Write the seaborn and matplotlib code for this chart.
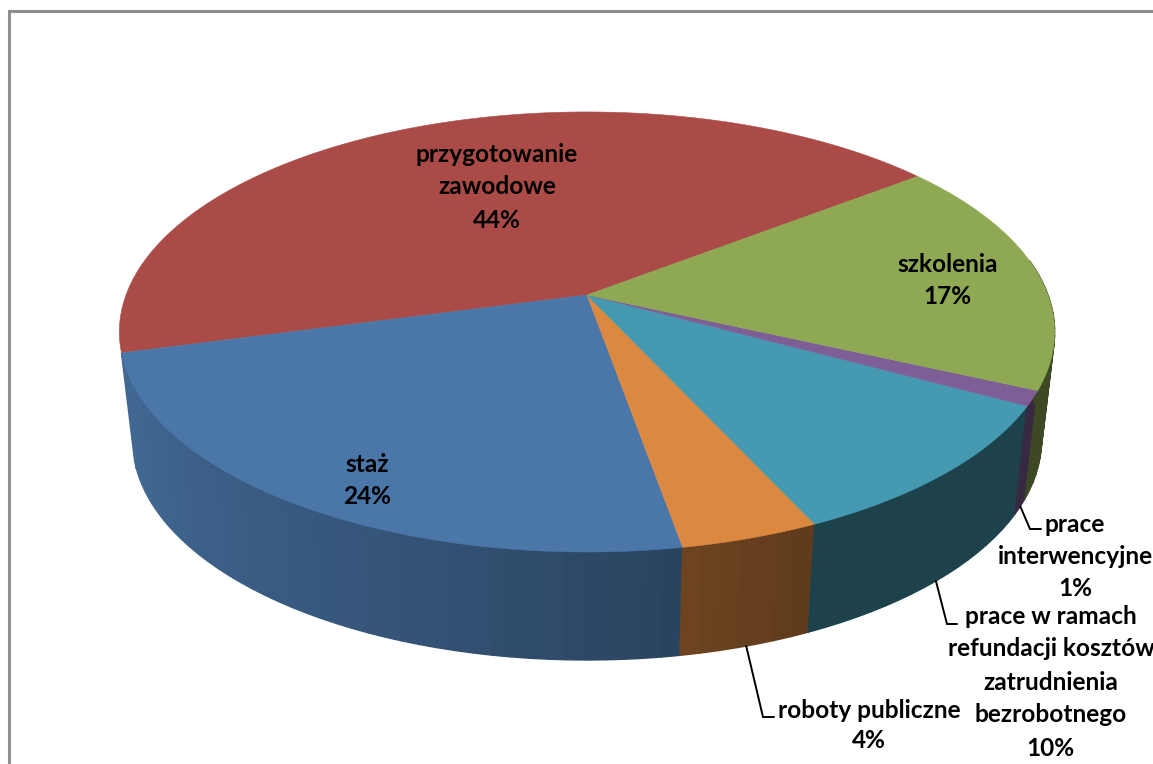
import matplotlib.pyplot as plt
import numpy as np
import seaborn as sns

# counter-clockwise from the red/green boundary
categories = ["przygotowanie\nzawodowe", "staż", "roboty publiczne",
              "prace w ramach\nrefundacji kosztów\nzatrudnienia\nbezrobotnego",
              "prace\ninterwencyjne", "szkolenia"]
values = [43.7, 23.6, 4.1, 10.2, 1.1, 17.3]
percent_labels = ["44%", "24%", "4%", "10%", "1%", "17%"]
slice_colors = ["#ab4b47", "#4a76a8", "#db8840", "#4599b0", "#7d5f96", "#8ea854"]

start_angle = 37.7
k = 0.168  # perspective of the tilted disc


def project(theta, a, y0):
    t = np.radians(theta)
    x, y = np.cos(t), np.sin(t)
    w = 1 + k * y
    return 587 + a * x / w, y0 - 213.8 * y / w


def top(theta):
    return project(theta, 461, 295)


def bottom(theta):
    return project(theta, 448, 403)


def shade(color, theta):
    f = np.interp(theta, [195, 240, 279.9, 280.1, 295, 385], [0.9, 0.75, 0.57, 0.5, 0.43, 0.43])
    return tuple(np.array(sns.color_palette([color])[0]) * f)


sns.set_theme(style="white")
plt.rcParams['font.family'] = ['Lato', 'DejaVu Sans']

fig, ax = plt.subplots(figsize=(11.53, 7.64), dpi=100)
fig.subplots_adjust(0, 0, 1, 1)
ax.set_xlim(0, 1153)
ax.set_ylim(764, 0)
ax.axis('off')

edges = start_angle + np.concatenate([[0], np.cumsum(values)]) * 3.6

# side wall, the red slice is at the back and never shows
for i, color in enumerate(slice_colors):
    if i == 0:
        continue
    lo, hi = edges[i], edges[i + 1]
    steps = np.linspace(lo, hi, max(int((hi - lo) / 2), 1) + 1)
    for t1, t2 in zip(steps[:-1], steps[1:]):
        if t1 > 368:  # behind the top face from here on
            continue
        xt, yt = top(np.array([t1, (t1 + t2) / 2, t2]))
        xb, yb = bottom(np.array([t2, (t1 + t2) / 2, t1]))
        c = shade(color, (t1 + t2) / 2)
        ax.fill(np.r_[xt, xb], np.r_[yt, yb], color=c, lw=1.0, zorder=2)

# top face
for i, color in enumerate(slice_colors):
    th = np.linspace(edges[i], edges[i + 1], 200)
    xs, ys = top(th)
    ax.fill(np.r_[587, xs], np.r_[295, ys], color=color, lw=0.4, zorder=3)

# leader lines start on the lower rim at the middle of the slice
mids = (edges[:-1] + edges[1:]) / 2
leaders = {2: [(763, 717), (774, 717)], 3: [(947, 624), (957, 624)], 4: [(1030, 529), (1041, 529)]}
for i, pts in leaders.items():
    x0, y0 = bottom(mids[i])
    ax.plot([x0] + [p[0] for p in pts], [y0] + [p[1] for p in pts],
            color='black', lw=1.4, zorder=4, solid_joinstyle='miter')

# data labels
label_pos = [(497, [155, 187, 220]),
             (367, [465, 497]),
             (869, [710, 741]),
             (1051, [617, 649, 682, 714, 748]),
             (1075, [525, 556, 588]),
             (948, [264, 297])]
for cat, pct, (x, rows) in zip(categories, percent_labels, label_pos):
    for line, y in zip(cat.split("\n") + [pct], rows):
        ax.text(x, y, line, ha='center', va='center', fontsize=17.6,
                fontweight='bold', color='black', zorder=5)

# chart area frame, only left and top are in the crop
ax.plot([8.5, 8.5, 1153], [764, 10.5, 10.5], color='#8e8e8e', lw=2.2,
        solid_joinstyle='miter', zorder=1)

fig.savefig("out.png", dpi=100)
